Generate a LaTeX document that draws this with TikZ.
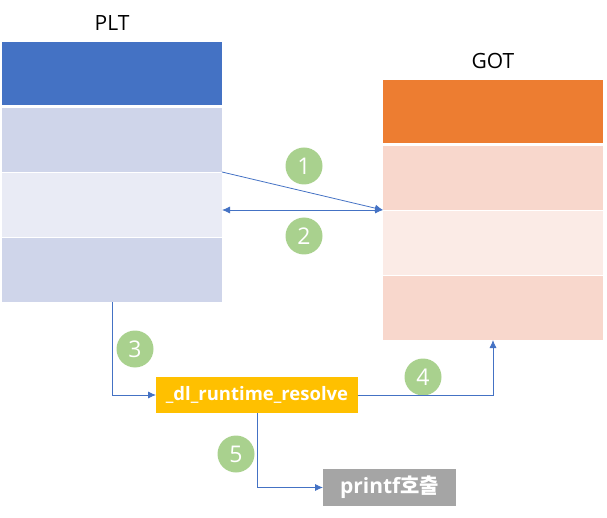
\documentclass[tikz,border=0pt]{standalone}
\usepackage{fontspec}
\setmainfont{Open Sans}
\newfontfamily\krfont{Noto Sans CJK KR}
\usetikzlibrary{arrows.meta,positioning}
\definecolor{pltblue}{HTML}{4472C4}
\definecolor{pltrowa}{HTML}{CFD5EA}
\definecolor{pltrowb}{HTML}{E9EBF5}
\definecolor{gotorange}{HTML}{ED7D31}
\definecolor{gotrowa}{HTML}{F8D7CC}
\definecolor{gotrowb}{HTML}{FBEBE6}
\definecolor{stepgreen}{HTML}{A9D18E}
\definecolor{linkblue}{HTML}{4472C4}
\definecolor{calltag}{HTML}{FFC000}
\definecolor{donetag}{HTML}{A5A5A5}
\tikzset{
  cell/.style={minimum width=220pt, minimum height=64pt, inner sep=0pt, outer sep=0pt},
  headcell/.style={cell, minimum height=63pt},
  title/.style={font=\fontsize{21}{24}\selectfont},
  num/.style={circle, fill=stepgreen, text=white, minimum size=37pt, inner sep=0pt,
    font=\fontsize{23}{23}\selectfont},
  tagbox/.style={text=white, inner sep=0pt, outer sep=0pt, minimum height=36pt,
    font=\bfseries\fontsize{18.5}{20}\selectfont},
  arr/.style={-{Latex[length=8pt,width=7pt]}, draw=linkblue, line width=0.8pt},
  darr/.style={{Latex[length=8pt,width=7pt]}-{Latex[length=8pt,width=7pt]}, draw=linkblue, line width=0.8pt}
}
\begin{document}
\begin{tikzpicture}[x=1pt, y=-1pt]
  \useasboundingbox (0,0) rectangle (607,518);
  % PLT table
  \node[headcell, fill=pltblue] (plthead) at (112,73.5) {};
  \node[cell, fill=pltrowa, below=3pt of plthead] (plt1) {};
  \node[cell, fill=pltrowb, below=1pt of plt1] (plt2) {};
  \node[cell, fill=pltrowa, below=1pt of plt2] (plt3) {};
  \node[title, above=8pt of plthead] (pltlabel) {PLT};
  % GOT table
  \node[headcell, fill=gotorange] (gothead) at (493,111.5) {};
  \node[cell, fill=gotrowa, below=3pt of gothead] (got1) {};
  \node[cell, fill=gotrowb, below=1pt of got1] (got2) {};
  \node[cell, fill=gotrowa, below=1pt of got2] (got3) {};
  \node[title, above=8pt of gothead] (gotlabel) {GOT};
  % resolver and call
  \node[tagbox, fill=calltag, minimum width=202pt] (resolve) at (257,395) {\_dl\_runtime\_resolve};
  \node[tagbox, fill=donetag, minimum width=133pt, minimum height=37pt,
    font=\bfseries\fontsize{21}{22}\selectfont] (printf) at (389.5,487.5) {printf{\krfont 호출}};
  % steps
  \node[num] (s1) at (304,166) {1};
  \node[num] (s2) at (304,236) {2};
  \node[num] (s3) at (135,349) {3};
  \node[num] (s4) at (423,377) {4};
  \node[num] (s5) at (236,454) {5};
  \draw[arr] (plt1.south east) -- (got1.south west);
  \draw[darr] (got1.south west) -- (plt2.east |- got1.south west);
  \draw[arr] (plt3.south) |- (resolve.west);
  \draw[arr] (resolve.east) -| (got3.south);
  \draw[arr] (resolve.south) |- (printf.west);
\end{tikzpicture}
\end{document}
